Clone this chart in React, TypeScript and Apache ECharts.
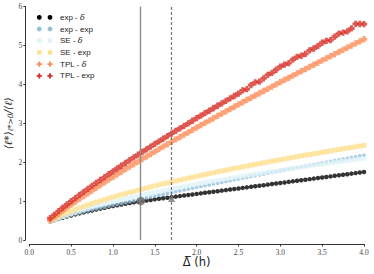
import React, { useEffect, useRef } from "react";
import * as echarts from "echarts";

const X = [0.25,0.3,0.35,0.4,0.45,0.5,0.55,0.6,0.65,0.7,0.75,0.8,0.85,0.9,0.95,1,1.05,1.1,1.15,1.2,1.25,1.3,1.35,1.4,1.45,1.5,1.55,1.6,1.65,1.7,1.75,1.8,1.85,1.9,1.95,2,2.05,2.1,2.15,2.2,2.25,2.3,2.35,2.4,2.45,2.5,2.55,2.6,2.65,2.7,2.75,2.8,2.85,2.9,2.95,3,3.05,3.1,3.15,3.2,3.25,3.3,3.35,3.4,3.45,3.5,3.55,3.6,3.65,3.7,3.75,3.8,3.85,3.9,3.95,4];

const EXP_DELTA = [0.470,0.506,0.540,0.572,0.602,0.631,0.658,0.685,0.710,0.735,0.759,0.783,0.806,0.830,0.852,0.875,0.895,0.914,0.932,0.950,0.968,0.984,1.000,1.015,1.030,1.045,1.059,1.073,1.087,1.101,1.115,1.129,1.143,1.157,1.171,1.185,1.199,1.213,1.227,1.241,1.255,1.269,1.283,1.297,1.311,1.325,1.339,1.353,1.367,1.381,1.395,1.409,1.423,1.438,1.452,1.466,1.480,1.494,1.508,1.522,1.536,1.550,1.564,1.579,1.593,1.607,1.621,1.635,1.650,1.664,1.678,1.692,1.706,1.720,1.734,1.748];

const EXP_EXP = [0.470,0.509,0.546,0.579,0.611,0.640,0.669,0.697,0.724,0.750,0.775,0.800,0.824,0.848,0.872,0.895,0.918,0.941,0.964,0.987,1.010,1.034,1.058,1.082,1.105,1.129,1.152,1.175,1.197,1.220,1.243,1.265,1.288,1.310,1.333,1.355,1.377,1.399,1.420,1.442,1.464,1.485,1.507,1.528,1.550,1.571,1.592,1.613,1.634,1.655,1.676,1.697,1.718,1.738,1.759,1.780,1.800,1.820,1.841,1.861,1.881,1.901,1.921,1.942,1.962,1.982,2.002,2.022,2.041,2.061,2.081,2.100,2.120,2.139,2.159,2.178];

const SE_DELTA = [0.465,0.508,0.552,0.595,0.634,0.672,0.708,0.742,0.776,0.808,0.839,0.868,0.897,0.926,0.954,0.982,1.008,1.034,1.060,1.085,1.110,1.134,1.157,1.181,1.204,1.227,1.249,1.271,1.292,1.314,1.335,1.355,1.376,1.396,1.416,1.436,1.455,1.474,1.494,1.513,1.532,1.550,1.568,1.587,1.605,1.623,1.640,1.658,1.675,1.693,1.710,1.727,1.743,1.760,1.776,1.793,1.809,1.825,1.842,1.858,1.874,1.889,1.905,1.920,1.936,1.951,1.966,1.981,1.997,2.012,2.027,2.042,2.056,2.071,2.085,2.100];

const SE_EXP = [0.501,0.556,0.607,0.655,0.700,0.743,0.785,0.825,0.863,0.901,0.937,0.972,1.006,1.039,1.072,1.104,1.135,1.165,1.195,1.225,1.253,1.282,1.310,1.337,1.364,1.391,1.417,1.443,1.468,1.493,1.518,1.542,1.566,1.590,1.614,1.638,1.661,1.684,1.707,1.730,1.752,1.774,1.796,1.818,1.840,1.861,1.882,1.903,1.924,1.945,1.965,1.985,2.005,2.025,2.045,2.064,2.083,2.103,2.122,2.142,2.161,2.180,2.198,2.217,2.235,2.254,2.272,2.290,2.309,2.327,2.345,2.362,2.380,2.397,2.415,2.432];

const TPL_DELTA = [0.508,0.592,0.673,0.753,0.831,0.907,0.983,1.057,1.130,1.202,1.273,1.343,1.413,1.482,1.551,1.620,1.687,1.754,1.820,1.886,1.952,2.016,2.081,2.145,2.209,2.273,2.336,2.399,2.461,2.524,2.586,2.647,2.708,2.769,2.830,2.891,2.951,3.011,3.070,3.130,3.190,3.249,3.308,3.366,3.425,3.484,3.542,3.600,3.657,3.715,3.773,3.830,3.887,3.944,4.001,4.058,4.114,4.170,4.227,4.283,4.339,4.394,4.450,4.505,4.561,4.616,4.671,4.726,4.780,4.835,4.890,4.944,4.998,5.053,5.107,5.161];

const TPL_EXP = [0.562,0.653,0.742,0.829,0.913,0.996,1.078,1.158,1.237,1.316,1.393,1.468,1.542,1.617,1.691,1.766,1.838,1.909,1.981,2.052,2.124,2.193,2.262,2.331,2.400,2.469,2.536,2.603,2.670,2.737,2.804,2.869,2.935,3.000,3.066,3.131,3.195,3.259,3.323,3.387,3.451,3.514,3.577,3.639,3.702,3.765,3.847,3.878,3.980,4.051,4.073,4.154,4.245,4.295,4.376,4.457,4.507,4.547,4.637,4.706,4.736,4.785,4.874,4.923,4.992,5.071,5.119,5.138,5.226,5.305,5.333,5.361,5.438,5.556,5.553,5.551];

const NAMES = ["exp - δ", "exp - exp", "SE - δ", "SE - exp", "TPL - δ", "TPL - exp"];
const COLORS = ["#000000", "#91bfdb", "#e0f3f8", "#fee090", "#fc8d59", "#d73027"];
const MARKERS = ["circle", "circle", "square", "square", "plus", "plus"];

const SOLID_LINE_X = 1.333;
const DASHED_LINE_X = 1.7;
const CIRCLE_POINT = [1.333, 1.0];
const TRIANGLE_POINT = [1.7, 1.07];

const PLUS = "path://M2.75,0H7.25V2.75H10V7.25H7.25V10H2.75V7.25H0V2.75H2.75Z";

function legendMarker(kind: string, cx: number, cy: number, fill: string): any {
  if (kind === "circle") return { type: "circle", shape: { cx, cy, r: 2.4 }, style: { fill } };
  if (kind === "square") return { type: "rect", shape: { x: cx - 2.2, y: cy - 2.2, width: 4.4, height: 4.4 }, style: { fill } };
  const a = 0.9, b = 2.6;
  return {
    type: "polygon",
    shape: {
      points: [
        [cx - a, cy - b], [cx + a, cy - b], [cx + a, cy - a], [cx + b, cy - a], [cx + b, cy + a], [cx + a, cy + a],
        [cx + a, cy + b], [cx - a, cy + b], [cx - a, cy + a], [cx - b, cy + a], [cx - b, cy - a], [cx - a, cy - a],
      ],
    },
    style: { fill },
  };
}

export default function App() {
  const ref = useRef<HTMLDivElement>(null);
  useEffect(() => {
    if (!ref.current) return;
    const chart = echarts.init(ref.current, null, { renderer: "svg" });
    const pair = (ys: number[]) => X.map((x, i) => [x, ys[i]]);
    const sets = [EXP_DELTA, EXP_EXP, SE_DELTA, SE_EXP, TPL_DELTA, TPL_EXP];
    const symbols = ["circle", "circle", "rect", "rect", PLUS, PLUS];
    const sizes = [4.5, 3.8, 4.5, 5, 6.3, 6.3];
    const series: any[] = sets.map((ys, k) => ({
      type: "scatter",
      name: NAMES[k],
      data: pair(ys),
      symbol: symbols[k],
      symbolSize: sizes[k],
      itemStyle: { color: COLORS[k] },
      z: 3 + k,
    }));
    series.push({
      type: "scatter",
      name: "marks",
      z: 20,
      data: [
        { value: CIRCLE_POINT, symbol: "circle", symbolSize: 8.5, itemStyle: { color: "#707070" } },
        { value: TRIANGLE_POINT, symbol: "triangle", symbolSize: 7, itemStyle: { color: "#7a7a7a" } },
      ],
      markLine: {
        silent: true,
        symbol: ["none", "none"],
        label: { show: false },
        z: 19,
        data: [
          { xAxis: SOLID_LINE_X, lineStyle: { color: "#8c8c8c", width: 1.4, type: "solid" } },
          { xAxis: DASHED_LINE_X, lineStyle: { color: "#777777", width: 1.2, type: [3, 2] } },
        ],
      },
    });

    const legendItems: any[] = [];
    NAMES.forEach((n, k) => {
      const cy = 17.3 + 11.7 * k;
      legendItems.push(legendMarker(MARKERS[k], 39.3, cy, COLORS[k]));
      legendItems.push(legendMarker(MARKERS[k], 50, cy, COLORS[k]));
      legendItems.push({
        type: "text",
        x: 60,
        y: cy,
        style: {
          text: n.replace("δ", "{d|δ}"),
          fontFamily: "Liberation Sans",
          fontSize: 8,
          fill: "#222",
          verticalAlign: "middle",
          align: "left",
          rich: { d: { fontFamily: "DejaVu Serif", fontStyle: "italic", fontSize: 8, fill: "#222" } },
        },
      });
    });

    const axisFont = { fontFamily: "Liberation Serif", fontSize: 7.5, color: "#444" };
    chart.setOption({
      animation: false,
      backgroundColor: "#ffffff",
      grid: { left: 29.3, right: 10, top: 6.6, bottom: 34, containLabel: false, outerBoundsMode: "none" },
      graphic: [{ type: "group", z: 50, children: legendItems }],
      xAxis: {
        type: "value",
        min: 0,
        max: 4,
        interval: 0.5,
        offset: 4,
        axisLine: { show: true, onZero: false, lineStyle: { color: "#333", width: 1 } },
        axisTick: { show: true, length: 2.5, lineStyle: { color: "#333" } },
        splitLine: { show: false },
        axisLabel: { ...axisFont, margin: 4, formatter: (v: number) => v.toFixed(1) },
        name: "Δ\u0305 (h)",
        nameLocation: "middle",
        nameGap: 12,
        nameMoveOverlap: false,
        nameTextStyle: { fontFamily: "DejaVu Sans", fontSize: 11.5, color: "#222" },
      },
      yAxis: {
        type: "value",
        min: 0,
        max: 6,
        interval: 1,
        offset: 4,
        axisLine: { show: true, onZero: false, lineStyle: { color: "#333", width: 1 } },
        axisTick: { show: true, length: 2, lineStyle: { color: "#333" } },
        splitLine: { show: false },
        axisLabel: { ...axisFont, margin: 3 },
        name: "{a|⟨ℓ*⟩}{s|ℓ*>0}{a|/⟨ℓ⟩}",
        nameLocation: "middle",
        nameGap: 11,
        nameMoveOverlap: false,
        nameTextStyle: {
          color: "#222",
          rich: {
            a: { fontFamily: "DejaVu Serif", fontStyle: "italic", fontSize: 10.5, lineHeight: 12, color: "#222" },
            s: { fontFamily: "DejaVu Serif", fontStyle: "italic", fontSize: 7.5, lineHeight: 8, color: "#222", verticalAlign: "bottom" },
          },
        },
      },
      series,
    });
    return () => chart.dispose();
  }, []);
  return <div ref={ref} style={{ position: "fixed", left: 0, top: 0, width: 374, height: 274 }} />;
}
